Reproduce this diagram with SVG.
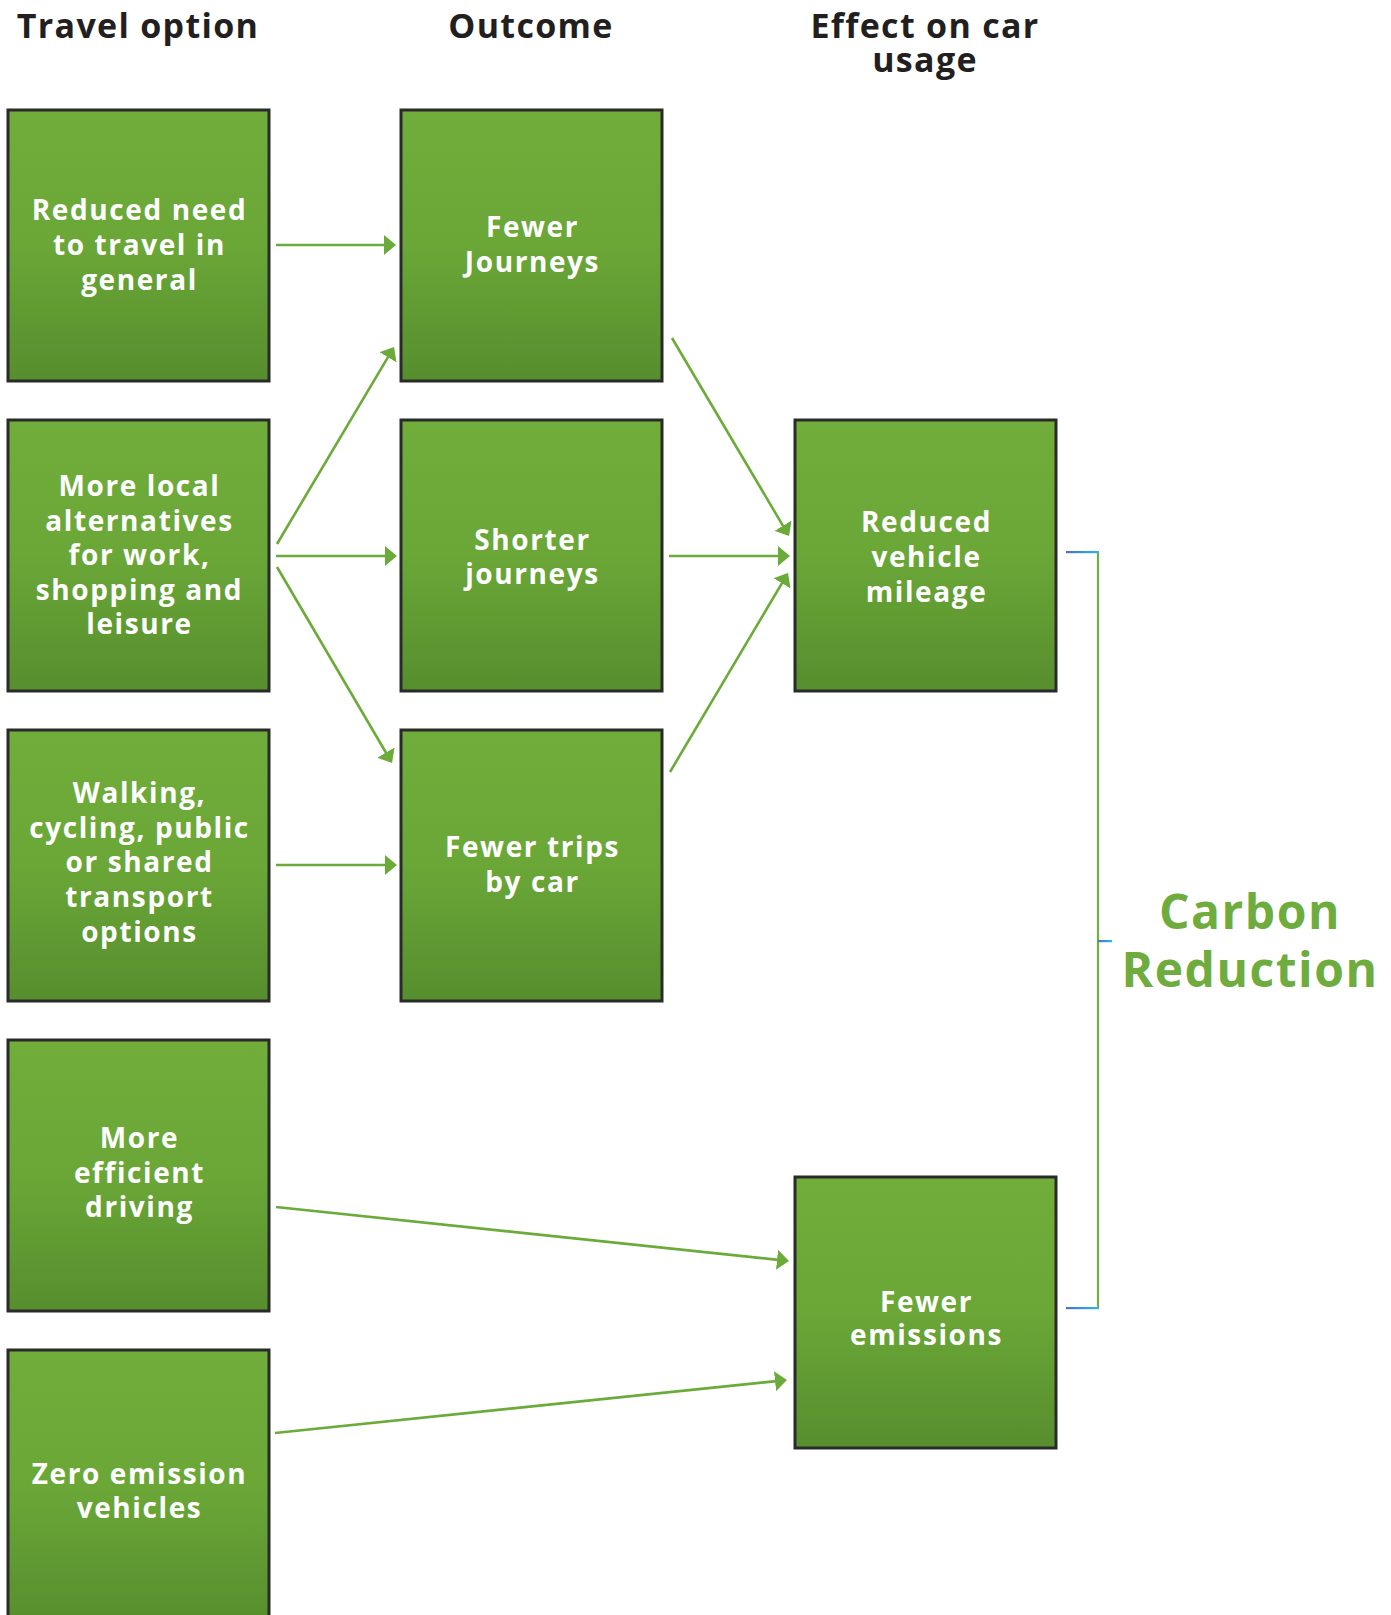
<svg xmlns="http://www.w3.org/2000/svg" width="1391" height="1615" viewBox="0 0 1391 1615">
<defs>
<linearGradient id="boxfill" x1="0" y1="0" x2="0" y2="1">
<stop offset="0" stop-color="#70ad3a"/>
<stop offset="0.5" stop-color="#6aa737"/>
<stop offset="1" stop-color="#578e2e"/>
</linearGradient>
<linearGradient id="tick" x1="0" y1="0" x2="1" y2="0">
<stop offset="0" stop-color="#4a73c0"/>
<stop offset="1" stop-color="#2bb8ea"/>
</linearGradient>
<marker id="arrow" viewBox="0 0 12 20" markerWidth="12" markerHeight="20" refX="8" refY="10" orient="auto" markerUnits="userSpaceOnUse">
<path d="M0,0 L12,10 L0,20 z" fill="#6aab3a"/>
</marker>
</defs>
<style>
.box{fill:url(#boxfill);stroke:#2a2a2a;stroke-width:3}
.lbl{font-family:"Open Sans","Noto Sans","DejaVu Sans",sans-serif;font-weight:700;font-size:28px;fill:#ffffff;text-anchor:middle;letter-spacing:1.6px}
.hdr{font-family:"Open Sans","Noto Sans","DejaVu Sans",sans-serif;font-weight:700;font-size:34px;fill:#231f20;text-anchor:middle;letter-spacing:1.3px}
.big{font-family:"Open Sans","Noto Sans","DejaVu Sans",sans-serif;font-weight:700;font-size:48px;fill:#6fac3e;text-anchor:middle;letter-spacing:1.5px}
.conn line{stroke:#6aab3a;stroke-width:2.6;marker-end:url(#arrow)}
</style>
<rect width="1391" height="1615" fill="#ffffff"/>

<g id="headers">
<text class="hdr" x="138" y="38">Travel option</text>
<text class="hdr" x="531" y="38">Outcome</text>
<text class="hdr" x="925" y="38">Effect on car</text>
<text class="hdr" x="925" y="72">usage</text>
</g>

<g id="n1">
<rect class="box" x="8" y="110" width="261" height="271"/>
<text class="lbl"><tspan x="139.5" y="220">Reduced need</tspan><tspan x="139.5" y="255">to travel in</tspan><tspan x="139.5" y="290">general</tspan></text>
</g>
<g id="n2">
<rect class="box" x="8" y="420" width="261" height="271"/>
<text class="lbl"><tspan x="139.5" y="496">More local</tspan><tspan x="139.5" y="530.5">alternatives</tspan><tspan x="139.5" y="565">for work,</tspan><tspan x="139.5" y="600">shopping and</tspan><tspan x="139.5" y="634">leisure</tspan></text>
</g>
<g id="n3">
<rect class="box" x="8" y="730" width="261" height="271"/>
<text class="lbl"><tspan x="139.5" y="803">Walking,</tspan><tspan x="139.5" y="838">cycling, public</tspan><tspan x="139.5" y="872">or shared</tspan><tspan x="139.5" y="907">transport</tspan><tspan x="139.5" y="942">options</tspan></text>
</g>
<g id="n4">
<rect class="box" x="8" y="1040" width="261" height="271"/>
<text class="lbl"><tspan x="139.5" y="1148">More</tspan><tspan x="139.5" y="1183">efficient</tspan><tspan x="139.5" y="1217">driving</tspan></text>
</g>
<g id="n5">
<rect class="box" x="8" y="1350" width="261" height="275"/>
<text class="lbl"><tspan x="139.5" y="1484">Zero emission</tspan><tspan x="139.5" y="1518">vehicles</tspan></text>
</g>
<g id="o1">
<rect class="box" x="401" y="110" width="261" height="271"/>
<text class="lbl"><tspan x="532.5" y="237">Fewer</tspan><tspan x="532.5" y="272">Journeys</tspan></text>
</g>
<g id="o2">
<rect class="box" x="401" y="420" width="261" height="271"/>
<text class="lbl"><tspan x="532.5" y="550">Shorter</tspan><tspan x="532.5" y="584">journeys</tspan></text>
</g>
<g id="o3">
<rect class="box" x="401" y="730" width="261" height="271"/>
<text class="lbl"><tspan x="532.5" y="857">Fewer trips</tspan><tspan x="532.5" y="892">by car</tspan></text>
</g>
<g id="e1">
<rect class="box" x="795" y="420" width="261" height="271"/>
<text class="lbl"><tspan x="926.5" y="532">Reduced</tspan><tspan x="926.5" y="567">vehicle</tspan><tspan x="926.5" y="602">mileage</tspan></text>
</g>
<g id="e2">
<rect class="box" x="795" y="1177" width="261" height="271"/>
<text class="lbl"><tspan x="926.5" y="1312">Fewer</tspan><tspan x="926.5" y="1345">emissions</tspan></text>
</g>

<g id="connectors" class="conn">
<line x1="276" y1="245" x2="392" y2="245"/>
<line x1="277" y1="544" x2="392" y2="350.4"/>
<line x1="276" y1="556" x2="393" y2="556"/>
<line x1="277" y1="567" x2="390" y2="759.5"/>
<line x1="276" y1="865" x2="393" y2="865"/>
<line x1="672" y1="338" x2="787" y2="532.6"/>
<line x1="669" y1="556" x2="786" y2="556"/>
<line x1="670" y1="772" x2="786" y2="576.4"/>
<line x1="276" y1="1207" x2="785" y2="1260.6"/>
<line x1="275" y1="1433" x2="783" y2="1380.4"/>
</g>

<g id="bracket">
<line x1="1098" y1="552" x2="1098" y2="1308" stroke="#70ad47" stroke-width="2.2"/>
<rect x="1066" y="551" width="33" height="2.2" fill="url(#tick)"/>
<rect x="1066" y="1307" width="33" height="2.2" fill="url(#tick)"/>
<rect x="1098" y="940" width="14" height="2.2" fill="url(#tick)"/>
</g>

<g id="carbon">
<text class="big" x="1250" y="929">Carbon</text>
<text class="big" x="1250" y="987">Reduction</text>
</g>
</svg>
